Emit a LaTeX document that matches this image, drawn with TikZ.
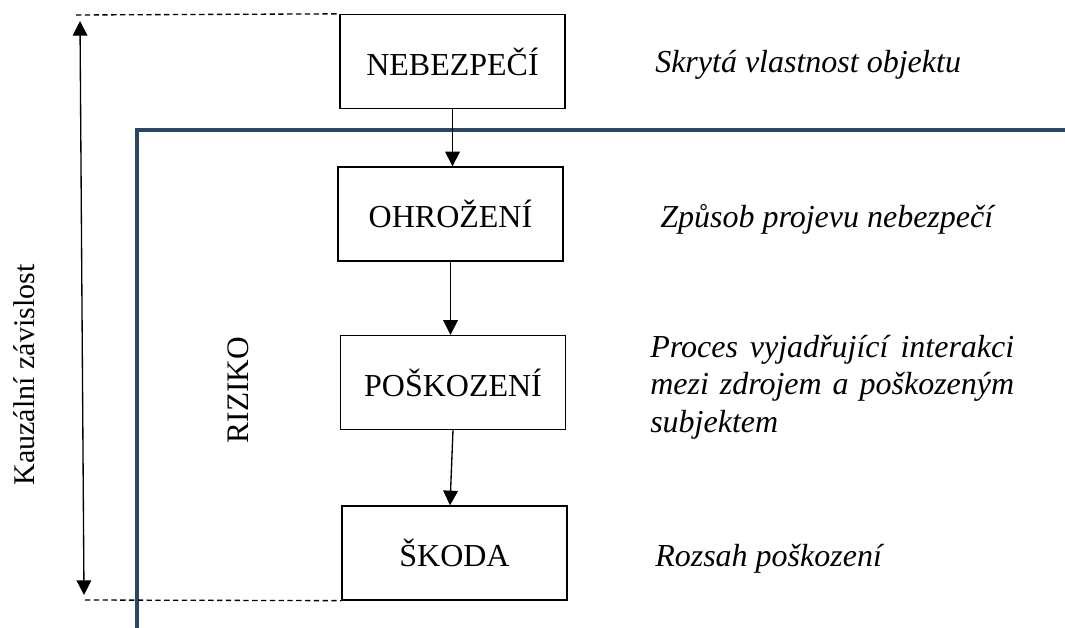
\documentclass[tikz,border=0pt]{standalone}
\usepackage{fontspec}
\setmainfont{Liberation Serif}
\usetikzlibrary{arrows.meta,calc}
\definecolor{frameblue}{HTML}{2B4763}
\begin{document}
\begin{tikzpicture}[x=0.75pt,y=-0.75pt,
  stage/.style={draw, line width=1pt, minimum width=168.75pt, minimum height=70.5pt,
    inner sep=0pt, font=\fontsize{24}{28}\selectfont},
  flow/.style={line width=1pt, -{Triangle[length=11pt,width=11pt]}},
  note/.style={anchor=base west, inner sep=0pt, font=\fontsize{24}{28.2}\selectfont\itshape},
  guide/.style={line width=1pt, dash pattern=on 4pt off 2.6pt},
  span/.style={line width=1pt, {Triangle[length=11pt,width=11pt]}-{Triangle[length=11pt,width=11pt]}},
  riskframe/.style={draw=frameblue, line width=2.5pt}
]
\useasboundingbox (0,0) rectangle (1065,628);

% frame enclosing the risk part
\coordinate (fb) at (137,640);
\coordinate (fc) at (137,130);
\coordinate (fr) at (1075,130);
\draw[riskframe] (fb) -- (fc) -- (fr);

% causal chain
\node[stage] (neb) at (452.5,61.5) {NEBEZPEČÍ};
\node[stage] (ohr) at (450.5,214) {OHROŽENÍ};
\node[stage] (pos) at (453,382.5) {POŠKOZENÍ};
\node[stage] (sko) at (454.5,553) {ŠKODA};

\draw[flow] (neb.south) -- (neb.south |- ohr.north);
\draw[flow] (ohr.south) -- (ohr.south |- pos.north);
\draw[flow] (pos.south) -- ($(sko.north)+(-4.5,0)$);

% extent of the causal dependence
\coordinate (dt) at (76,15);
\coordinate (db) at (85,600);
\draw[guide] (dt) -- (neb.north west);
\draw[guide] (db) -- (sko.south west);
\coordinate (at) at (80,21);
\coordinate (ab) at (84,595);
\draw[span] (ab) -- (at);

\node[rotate=90, font=\fontsize{22.5}{27}\selectfont] (kz) at (24,375) {Kauzální závislost};
\node[rotate=90, font=\fontsize{23.5}{28}\selectfont] (rz) at (238,390) {RIZIKO};

% descriptions
\node[note] (n1) at (655,72) {Skrytá vlastnost objektu};
\node[note] (n2) at (660,227) {Způsob projevu nebezpečí};
\node[note, text width=273pt, align=justify] (n3) at (650,357)
  {\hyphenpenalty=10000 Proces vyjadřující interakci mezi zdrojem a poškozeným subjektem};
\node[note] (n4) at (655,566) {Rozsah poškození};
\end{tikzpicture}
\end{document}
